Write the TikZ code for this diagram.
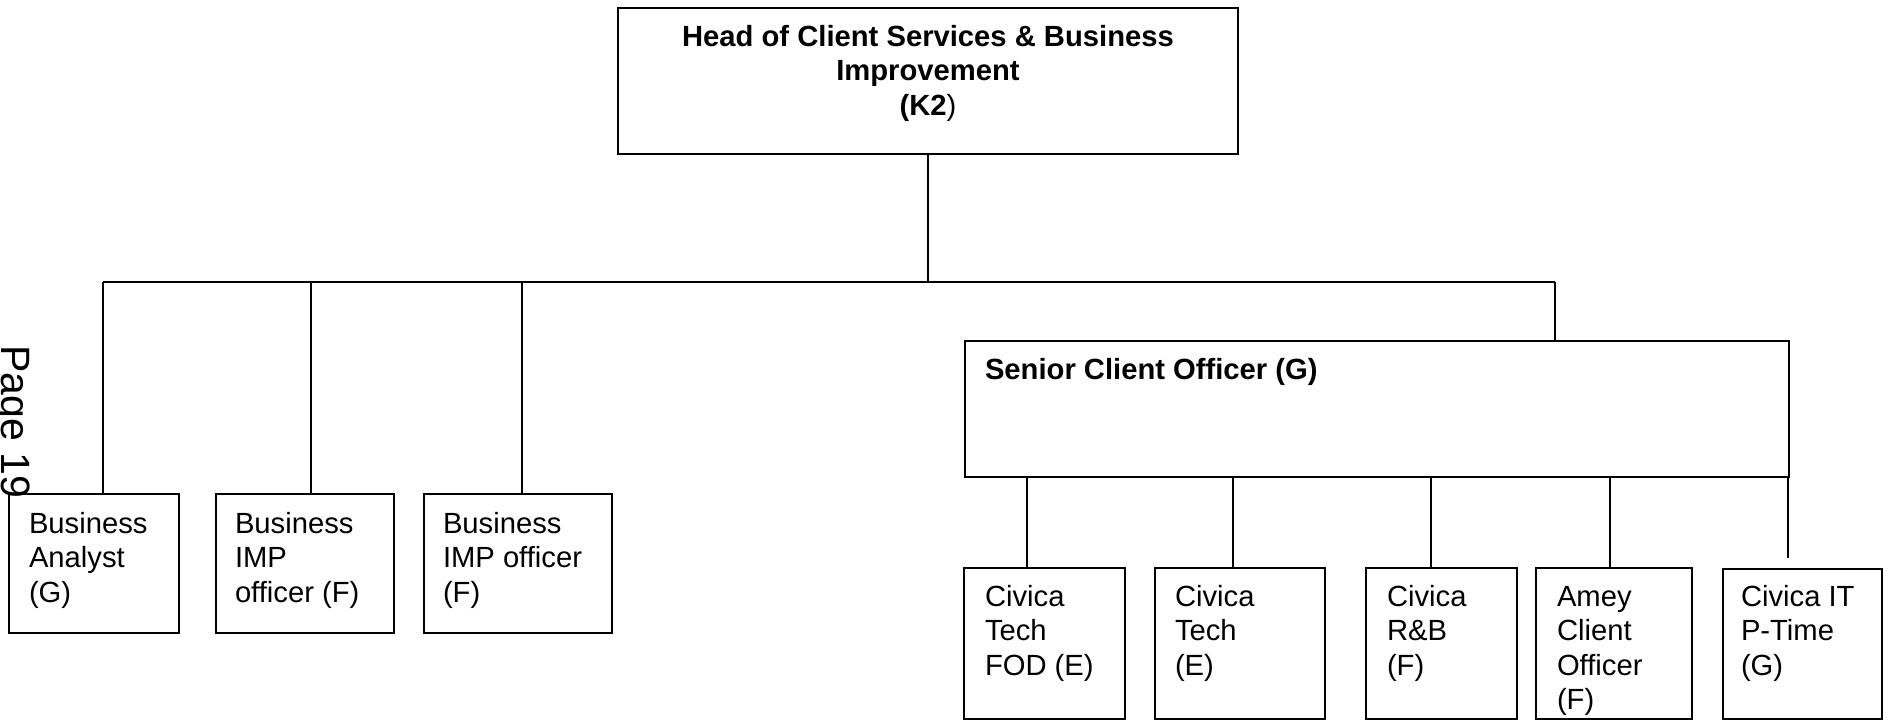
\documentclass[tikz,border=0pt]{standalone}
\usepackage{fontspec}
\setmainfont{Liberation Sans}
\usetikzlibrary{calc}
\begin{document}
\begin{tikzpicture}[x=1pt,y=-1pt,
  box/.style={draw, line width=1.8pt, inner sep=0pt, outer sep=0pt, anchor=north west},
  txt/.style={inner sep=0pt, outer sep=0pt, align=left, anchor=base west,
    font=\fontsize{29.2}{34.5}\selectfont},
  htxt/.style={inner sep=0pt, outer sep=0pt, align=center, anchor=base,
    font=\fontsize{29.2}{34.5}\selectfont\bfseries},
  conn/.style={draw, line width=1.8pt}]
\useasboundingbox (0,0) rectangle (1891,720);

% page number in margin
\node[rotate=-90, anchor=base west, inner sep=0pt, font=\fontsize{41}{41}\selectfont] (pg) at (1.5,345) {Page 19};

% boxes
\node[box, minimum width=620pt, minimum height=146pt] (head) at (618,8) {};
\node[box, minimum width=170pt, minimum height=139pt] (ba) at (9,494) {};
\node[box, minimum width=178pt, minimum height=139pt] (imp1) at (216,494) {};
\node[box, minimum width=188pt, minimum height=139pt] (imp2) at (424,494) {};
\node[box, minimum width=824pt, minimum height=136pt] (senior) at (965,341) {};
\node[box, minimum width=161pt, minimum height=151pt] (fod) at (964,568) {};
\node[box, minimum width=170pt, minimum height=151pt] (tech) at (1155,568) {};
\node[box, minimum width=151pt, minimum height=151pt] (rb) at (1366,568) {};
\node[box, minimum width=156pt, minimum height=151pt] (amey) at (1536,568) {};
\node[box, minimum width=159pt, minimum height=150pt] (it) at (1723,569) {};

% texts (base anchor = baseline of the last line)
\node[htxt] (head-t) at (928,115) {Head of Client Services \& Business\\Improvement\\(K2\textmd{)}};
\node[txt] (ba-t) at (29,602) {Business\\Analyst\\(G)};
\node[txt] (imp1-t) at (235,602) {Business\\IMP\\officer (F)};
\node[txt] (imp2-t) at (443,602) {Business\\IMP officer\\(F)};
\node[txt, font=\fontsize{29.2}{34.5}\selectfont\bfseries] (senior-t) at (985,379) {Senior Client Officer (G)};
\node[txt] (fod-t) at (985,675) {Civica\\Tech\\FOD (E)};
\node[txt] (tech-t) at (1175,675) {Civica\\Tech\\(E)};
\node[txt] (rb-t) at (1387,675) {Civica\\R\&B\\(F)};
\node[txt] (amey-t) at (1557,709.5) {Amey\\Client\\Officer\\(F)};
\node[txt] (it-t) at (1741,675) {Civica IT\\P-Time\\(G)};

% connectors
\coordinate (j0) at (928,282);
\coordinate (j1) at (103,282);
\coordinate (j2) at (311,282);
\coordinate (j3) at (522,282);
\coordinate (j4) at (1555,282);
\draw[conn] (head.south) -- (j0);
\draw[conn] (j1) -- (j4);
\draw[conn] (j1) -- (j1 |- ba.north);
\draw[conn] (j2) -- (j2 |- imp1.north);
\draw[conn] (j3) -- (j3 |- imp2.north);
\draw[conn] (j4) -- (j4 |- senior.north);

\coordinate (s1) at (1027,477);
\coordinate (s2) at (1233,477);
\coordinate (s3) at (1431,477);
\coordinate (s4) at (1610,477);
\coordinate (s5) at (1788,477);
\coordinate (e5) at (1788,558);
\draw[conn] (s1) -- (s1 |- fod.north);
\draw[conn] (s2) -- (s2 |- tech.north);
\draw[conn] (s3) -- (s3 |- rb.north);
\draw[conn] (s4) -- (s4 |- amey.north);
\draw[conn] (s5) -- (e5);
\end{tikzpicture}
\end{document}
